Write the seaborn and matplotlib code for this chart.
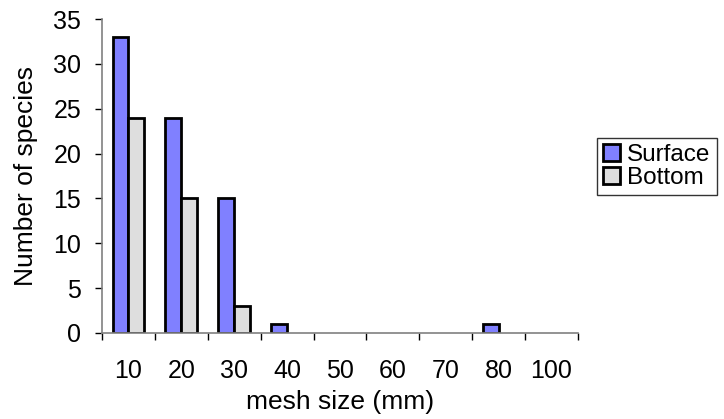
import matplotlib
matplotlib.use("Agg")
import matplotlib.pyplot as plt
import seaborn as sns
import pandas as pd
import numpy as np

categories = ["10", "20", "30", "40", "50", "60", "70", "80", "100"]
surface = [33, 24, 15, 1, 0, 0, 0, 1, 0]
bottom = [24, 15, 3, 0, 0, 0, 0, 0, 0]
series_names = ["Surface", "Bottom"]
yticks = [0, 5, 10, 15, 20, 25, 30, 35]

df = pd.DataFrame({
    "mesh": categories * 2,
    "count": surface + bottom,
    "series": [series_names[0]] * len(categories) + [series_names[1]] * len(categories),
})

sns.set_style("white")
plt.rcParams["font.family"] = ["Liberation Sans", "DejaVu Sans"]
plt.rcParams["text.color"] = "black"
plt.rcParams["axes.labelcolor"] = "black"
plt.rcParams["xtick.color"] = "black"
plt.rcParams["ytick.color"] = "black"
FS = 18

fig = plt.figure(figsize=(7.24, 4.19), dpi=100)
ax = fig.add_axes([102 / 724, 1 - 333 / 419, (578 - 102) / 724, (333 - 19) / 419])

palette = {"Surface": "#8080ff", "Bottom": "#dedede"}
sns.barplot(data=df, x="mesh", y="count", hue="series", order=categories,
            hue_order=series_names, palette=palette, width=0.6, dodge=True,
            edgecolor="black", linewidth=2.0, saturation=1, ax=ax, legend=True)

# zero-height bars are not drawn in the reference
for p in ax.patches:
    if p.get_height() == 0:
        p.set_visible(False)

n = len(categories)
ax.set_xlim(-0.5, n - 0.5)
ax.set_ylim(0, 35)
ax.set_yticks(yticks)
ax.set_xticks(np.arange(-0.5, n, 1.0))
ax.set_xticklabels([])
ax.set_xticks(np.arange(n), minor=True)
ax.set_xticklabels(categories, minor=True)
ax.tick_params(axis="x", which="major", direction="out", length=5, width=1,
               color="black", bottom=True)
ax.tick_params(axis="x", which="minor", length=0, labelsize=FS, pad=19,
               labelcolor="black")
ax.tick_params(axis="y", direction="out", length=5, width=1, color="black",
               left=True, labelsize=FS, pad=10, labelcolor="black")

for s in ["top", "right"]:
    ax.spines[s].set_visible(False)
for s in ["left", "bottom"]:
    ax.spines[s].set_color("#808080")
    ax.spines[s].set_linewidth(1.2)

ax.set_xlabel("mesh size (mm)", fontsize=19, labelpad=4.5, color="black")
ax.set_ylabel("Number of species", fontsize=19, labelpad=11, color="black")

leg = ax.get_legend()
handles = leg.legend_handles
leg.remove()
lg = fig.legend(handles, series_names, loc="upper left",
                bbox_to_anchor=(597 / 724, 1 - 138 / 419), frameon=True, fancybox=False,
                edgecolor="black", fontsize=17.5, handlelength=0.7, handleheight=0.7,
                handletextpad=0.3, borderpad=0.25, labelspacing=0.05, borderaxespad=0)
for t in lg.get_texts():
    t.set_color("black")

fig.savefig("out.png", dpi=100)
